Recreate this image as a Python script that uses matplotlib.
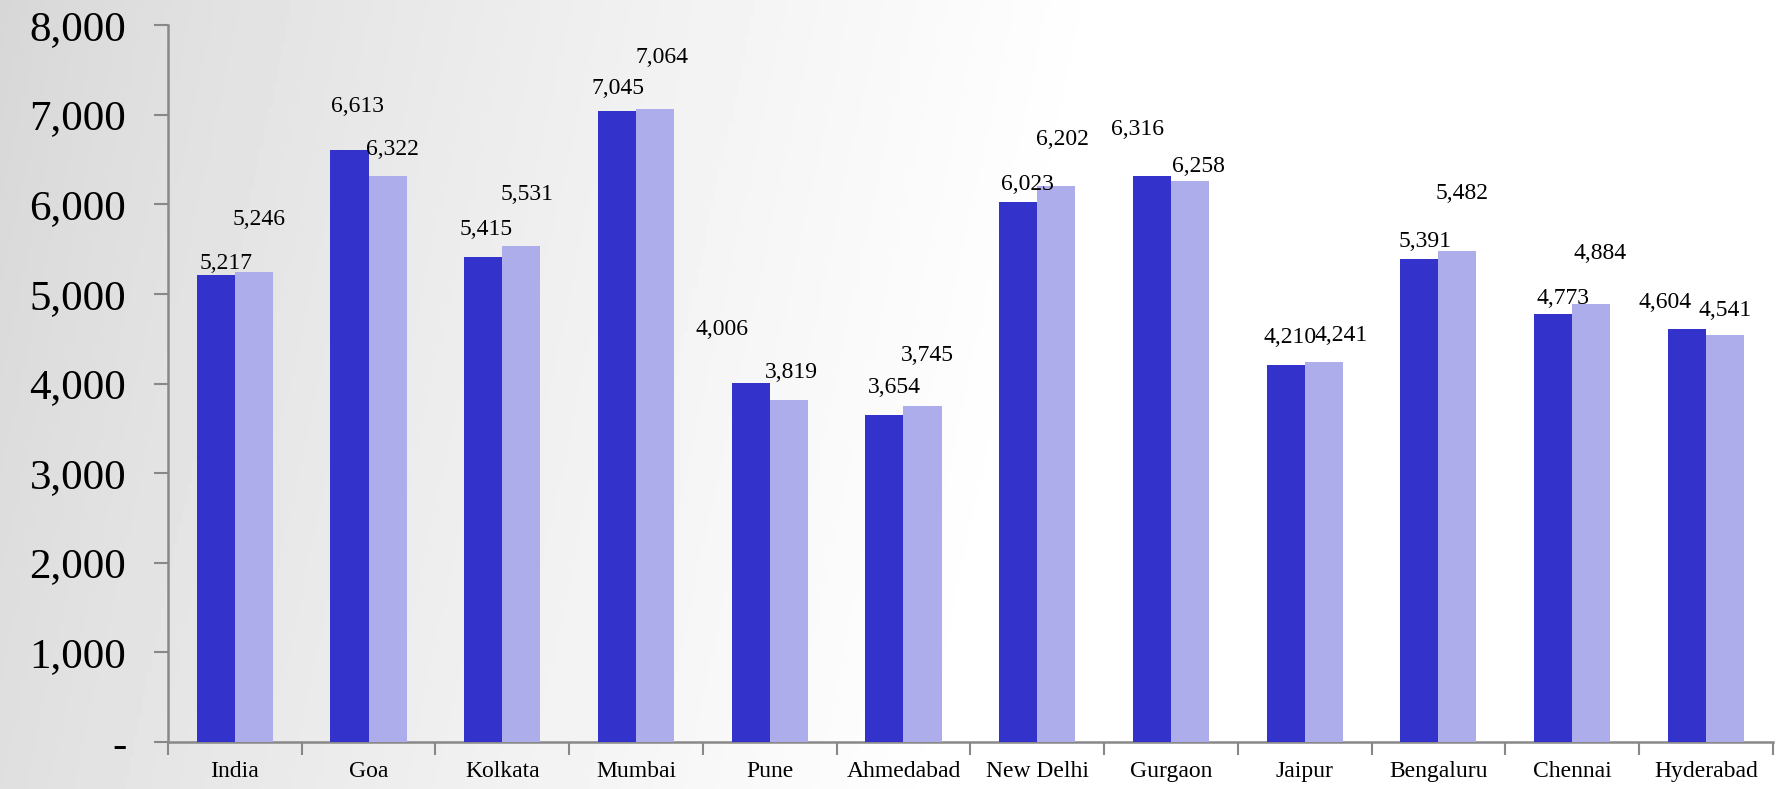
import numpy as np
import matplotlib
matplotlib.use("Agg")
import matplotlib.pyplot as plt
from matplotlib.ticker import FuncFormatter, FixedLocator

# ---- data ----
cities = ["India", "Goa", "Kolkata", "Mumbai", "Pune", "Ahmedabad", "New Delhi",
          "Gurgaon", "Jaipur", "Bengaluru", "Chennai", "Hyderabad"]
series_a = [5217, 6613, 5415, 7045, 4006, 3654, 6023, 6316, 4210, 5391, 4773, 4604]
series_b = [5246, 6322, 5531, 7064, 3819, 3745, 6202, 6258, 4241, 5482, 4884, 4541]
y_ticks = [0, 1000, 2000, 3000, 4000, 5000, 6000, 7000, 8000]

# label offsets (pixels) relative to each bar's top centre
a_dx = [10, 8, 3, 1, -29, 10, 9, -14, 4, 6, 10, -22]
a_dy = [11, 43, 27, 22, 54, 27, 18, 47, 27, 17, 16, 27]
b_dx = [5, 5, 6, 7, 3, 5, 6, 8, 17, 5, 9, 0]
b_dy = [52, 26, 52, 52, 27, 51, 47, 15, 27, 57, 51, 25]

DARK = "#3333cc"
LIGHT = "#aeadeb"
FONT = "Liberation Serif"

fig = plt.figure(figsize=(17.87, 7.89), dpi=100)

# background gradient
bg = fig.add_axes([0, 0, 1, 1], zorder=-10)
gx = np.linspace(0, 1, 400)
gy = np.linspace(0, 1, 200)
X, Y = np.meshgrid(gx, gy)
val = 0.84 + 0.16 * np.clip(X * 1.6 + 0.15 * Y, 0, 1) ** 0.8
bg.imshow(val, cmap="gray", vmin=0, vmax=1, aspect="auto", extent=[0, 1, 0, 1])
bg.set_axis_off()

ax = fig.add_axes([0.094, 0.0596, 0.898, 0.9084])
ax.patch.set_alpha(0)

x = np.arange(len(cities))
w = 0.285
bars_a = ax.bar(x - w / 2, series_a, width=w, color=DARK, zorder=3)
bars_b = ax.bar(x + w / 2, series_b, width=w, color=LIGHT, zorder=3)

for i, (ba, bb) in enumerate(zip(bars_a, bars_b)):
    ax.annotate(f"{series_a[i]:,}", (ba.get_x() + ba.get_width() / 2, ba.get_height()),
                xytext=(a_dx[i], a_dy[i]), textcoords="offset pixels",
                ha="center", va="center", fontsize=17, family=FONT, color="black")
    ax.annotate(f"{series_b[i]:,}", (bb.get_x() + bb.get_width() / 2, bb.get_height()),
                xytext=(b_dx[i], b_dy[i]), textcoords="offset pixels",
                ha="center", va="center", fontsize=17, family=FONT, color="black")

ax.set_xlim(-0.5, len(cities) - 0.5)
ax.set_ylim(0, 8000)

ax.set_yticks(y_ticks)
ax.yaxis.set_major_formatter(FuncFormatter(lambda v, p: "-" if v == 0 else f"{int(v):,}"))
ax.tick_params(axis="y", length=10, width=1.5, color="#888888", pad=20, labelsize=31)
for lab in ax.get_yticklabels():
    lab.set_family(FONT)

ax.set_xticks(x)
ax.set_xticklabels(cities, fontsize=17, family=FONT)
ax.xaxis.set_minor_locator(FixedLocator(np.arange(-0.5, len(cities), 1.0)))
ax.tick_params(axis="x", which="major", length=0, pad=14)
ax.tick_params(axis="x", which="minor", length=9, width=1.5, color="#888888")

for s in ["top", "right"]:
    ax.spines[s].set_visible(False)
for s in ["left", "bottom"]:
    ax.spines[s].set_color("#888888")
    ax.spines[s].set_linewidth(1.8)

fig.savefig("out.png", dpi=100)
